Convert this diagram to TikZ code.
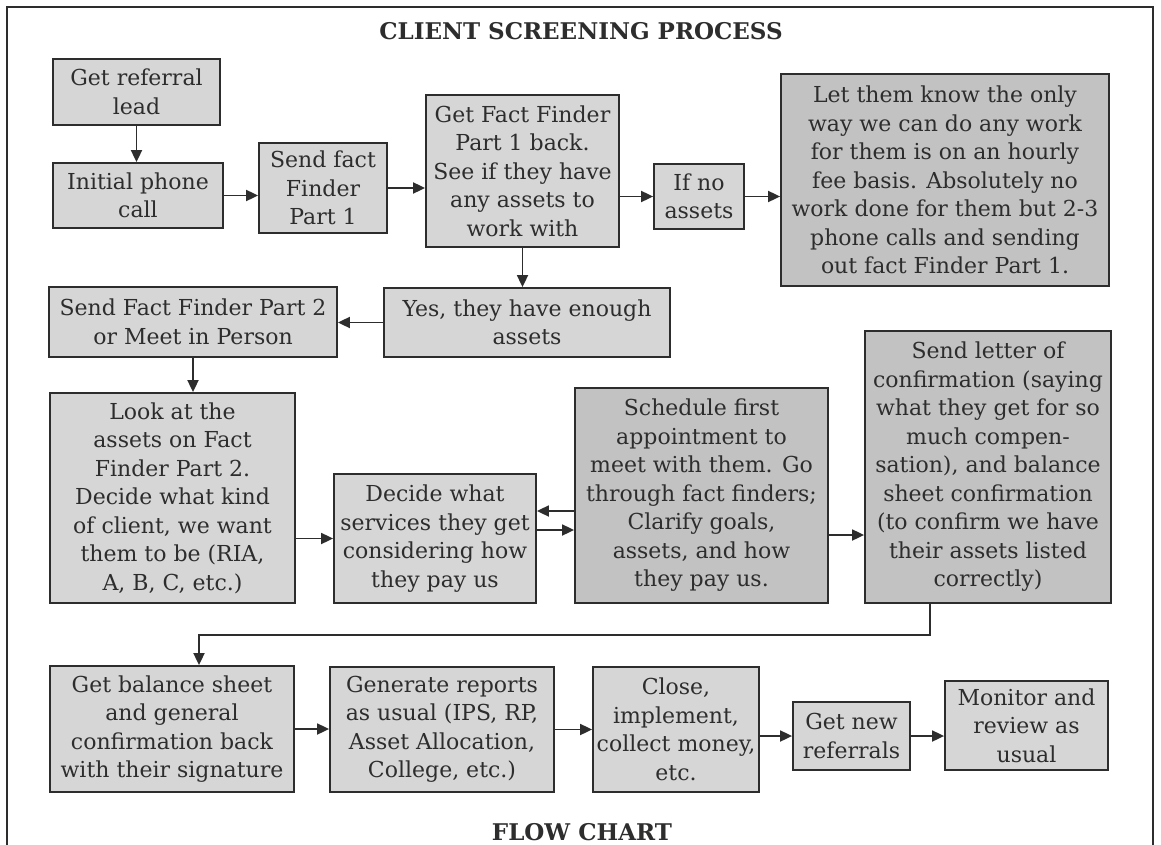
\documentclass[tikz,border=0pt]{standalone}
\usepackage{fontspec}
\setmainfont{DejaVu Serif}
\usetikzlibrary{arrows.meta}
\definecolor{boxLight}{RGB}{214,214,214}
\definecolor{boxDark}{RGB}{194,194,194}
\definecolor{lineGrey}{RGB}{45,45,45}

\begin{document}
\begin{tikzpicture}[x=1pt,y=-1pt,
  flowbox/.style={draw=lineGrey,line width=1.8pt,fill=boxLight,align=center,
    inner sep=0pt,text=lineGrey,font=\fontsize{22}{28.5}\selectfont},
  darkbox/.style={flowbox,fill=boxDark},
  flow/.style={-{Triangle[length=12pt,width=11pt]},line width=1.8pt,lineGrey}]
  \useasboundingbox (0,0) rectangle (1161,845);
  \draw[lineGrey,line width=1.4pt] (7,845) |- (1153,7) -- (1153,845);
  \node[font=\fontsize{23}{26}\selectfont\bfseries,lineGrey] (title) at (581,31)
    {CLIENT SCREENING PROCESS};
  \node[font=\fontsize{23}{26}\selectfont\bfseries,lineGrey] (footer) at (582,832)
    {FLOW CHART};

  \node[flowbox,minimum width=167,minimum height=66] (lead) at (136.5,92)
    {Get referral\\lead};
  \node[flowbox,minimum width=170,minimum height=65] (call) at (138,195.5)
    {Initial phone\\call};
  \node[flowbox,minimum width=128,minimum height=90] (send1) at (323,188)
    {Send fact\\Finder\\Part 1};
  \node[flowbox,minimum width=193,minimum height=152] (back1) at (522.5,171)
    {Get Fact Finder\\Part 1 back.\\See if they have\\any assets to\\work with};
  \node[flowbox,minimum width=90,minimum height=65] (noassets) at (699,196.5)
    {If no\\assets};
  \node[darkbox,minimum width=328,minimum height=212] (hourly) at (945,180)
    {Let them know the only\\way we can do any work\\for them is on an hourly\\
     fee basis. Absolutely no\\work done for them but 2-3\\phone calls and sending\\
     out fact Finder Part 1.};
  \node[flowbox,minimum width=286,minimum height=69] (enough) at (527,322.5)
    {Yes, they have enough\\assets};
  \node[flowbox,minimum width=288,minimum height=70] (send2) at (193,322)
    {Send Fact Finder Part 2\\or Meet in Person};
  \node[flowbox,minimum width=245,minimum height=210] (look) at (172.5,498)
    {Look at the\\assets on Fact\\Finder Part 2.\\Decide what kind\\of client, we want\\
     them to be (RIA,\\A, B, C, etc.)};
  \node[flowbox,minimum width=202,minimum height=129] (services) at (435,538.5)
    {Decide what\\services they get\\considering how\\they pay us};
  \node[darkbox,minimum width=253,minimum height=215] (schedule) at (701.5,495.5)
    {Schedule first\\appointment to\\meet with them. Go\\through fact finders;\\
     Clarify goals,\\assets, and how\\they pay us.};
  \node[darkbox,minimum width=246,minimum height=272] (letter) at (988,467)
    {Send letter of\\confirmation (saying\\what they get for so\\much compen-\\
     sation), and balance\\sheet confirmation\\(to confirm we have\\
     their assets listed\\correctly)};
  \node[flowbox,minimum width=244,minimum height=126] (sheet) at (172,729)
    {Get balance sheet\\and general\\confirmation back\\with their signature};
  \node[flowbox,minimum width=224,minimum height=125] (reports) at (442,729.5)
    {Generate reports\\as usual (IPS, RP,\\Asset Allocation,\\College, etc.)};
  \node[flowbox,minimum width=166,minimum height=125] (close) at (676,729.5)
    {Close,\\implement,\\collect money,\\etc.};
  \node[flowbox,minimum width=117,minimum height=68] (newref) at (851.5,736)
    {Get new\\referrals};
  \node[flowbox,minimum width=163,minimum height=89] (monitor) at (1026.5,725.5)
    {Monitor and\\review as\\usual};

  \draw[flow] (lead.south) -- (lead.south |- call.north);
  \draw[flow] (call.east) -- (call.east -| send1.west);
  \draw[flow] (send1.east) -- (send1.east -| back1.west);
  \draw[flow] (noassets.west -| back1.east) -- (noassets.west);
  \draw[flow] (noassets.east) -- (noassets.east -| hourly.west);
  \draw[flow] (back1.south) -- (back1.south |- enough.north);
  \draw[flow] (enough.west) -- (enough.west -| send2.east);
  \draw[flow] (send2.south) -- (send2.south |- look.north);
  \draw[flow] (services.west -| look.east) -- (services.west);
  \draw[flow] ([yshift=27.5pt]services.east -| schedule.west) -- ([yshift=27.5pt]services.east);
  \draw[flow] ([yshift=8.5pt]services.east) -- ([yshift=8.5pt]services.east -| schedule.west);
  \draw[flow] ([yshift=-39.5pt]schedule.east) -- ([yshift=-39.5pt]schedule.east -| letter.west);
  \draw[flow] ([xshift=-58pt]letter.south) -- ++(0,31) -| ([xshift=27pt]sheet.north);
  \draw[flow] (sheet.east) -- (sheet.east -| reports.west);
  \draw[flow] (reports.east) -- (reports.east -| close.west);
  \draw[flow] (newref.west -| close.east) -- (newref.west);
  \draw[flow] (newref.east) -- (newref.east -| monitor.west);
\end{tikzpicture}
\end{document}
